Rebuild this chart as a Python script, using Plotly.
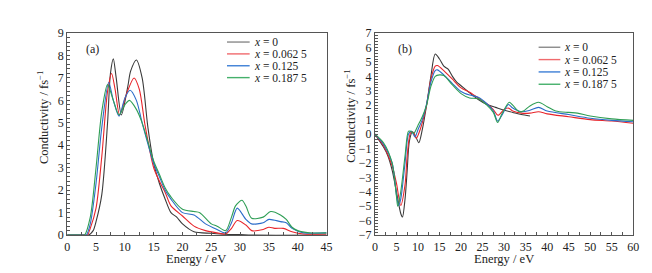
import plotly.graph_objects as go

# ---------------- data: panel (a) ----------------
a_labels = ["<i>x</i> = 0", "<i>x</i> = 0.062 5", "<i>x</i> = 0.125", "<i>x</i> = 0.187 5"]
colors = ["#3a3a3a", "#e8252b", "#2b6cc9", "#2f9e55"]
legend_colors = ["#8a8a8a", "#f06a6d", "#3d7fd6", "#45b06b"]

a0_E = [0, 3.0, 3.7, 4.5, 5, 6, 7, 7.5, 8, 8.5, 9.4, 10.5, 11, 12, 13, 14, 15, 16, 17, 18, 19, 20, 22, 25, 28, 30, 32, 45]
a0_v = [0, 0, 0, 0.2, 0.6, 1.8, 5.0, 7.2, 7.85, 7.0, 5.35, 6.6, 7.3, 7.8, 7.0, 4.8, 3.2, 2.3, 1.6, 1.0, 0.8, 0.5, 0.15, 0.08, 0.03, 0.02, 0.0, 0.0]

a1_E = [0, 3.0, 3.5, 4, 5, 6, 7, 7.7, 8.3, 9.1, 10.3, 11.6, 12.5, 13.5, 15, 16, 17, 18, 20, 22, 24, 26, 27.5, 28.5, 29.5, 31, 32, 34, 35, 36, 37.5, 39, 41, 45]
a1_v = [0, 0, 0, 0.3, 1.2, 3.5, 6.4, 7.2, 6.5, 5.35, 6.3, 7.0, 6.5, 4.9, 3.0, 2.4, 1.9, 1.3, 0.85, 0.4, 0.2, 0.1, 0.05, 0.3, 0.65, 0.45, 0.2, 0.25, 0.35, 0.3, 0.3, 0.15, 0.05, 0.05]

a2_E = [0, 2.8, 3.3, 4, 5, 6, 7.2, 8, 9.0, 10, 10.9, 12, 13, 15, 16, 17, 18, 20, 22, 24, 26, 27.5, 28.5, 29.5, 31, 32, 34, 35, 37, 38, 39, 41, 45]
a2_v = [0, 0, 0, 0.5, 2.3, 4.8, 6.8, 6.0, 5.3, 6.1, 6.45, 6.0, 5.0, 3.2, 2.6, 2.0, 1.6, 1.0, 0.9, 0.5, 0.25, 0.1, 0.55, 1.2, 0.7, 0.5, 0.55, 0.7, 0.6, 0.55, 0.3, 0.1, 0.1]

a3_E = [0, 2.5, 3.0, 4, 5, 6, 7.0, 8, 9.0, 10, 10.8, 12, 13, 15, 16, 17, 18, 20, 22, 23, 25, 26, 27.5, 28.5, 29.2, 30.3, 31, 32, 34, 35.3, 37, 38, 39, 40, 42, 45]
a3_v = [0, 0, 0, 0.8, 3.0, 5.5, 6.7, 6.0, 5.35, 5.8, 6.0, 5.6, 5.0, 3.3, 2.7, 2.1, 1.7, 1.15, 1.05, 1.0, 0.5, 0.4, 0.2, 0.8, 1.3, 1.55, 1.3, 0.75, 0.8, 1.05, 0.9, 0.7, 0.35, 0.2, 0.1, 0.1]

# ---------------- data: panel (b) ----------------
b0_E = [0, 2, 3, 4, 5, 6, 6.4, 7, 7.5, 8, 8.7, 9.5, 10.2, 11, 12, 13, 14, 15, 16, 17, 18, 19, 20, 22, 24, 26, 28, 30, 32, 34, 36]
b0_v = [0, -0.9, -1.5, -2.5, -4.0, -5.5, -5.75, -4.5, -2.5, -0.5, 0.15, -0.2, -0.6, 0.3, 2.0, 4.0, 5.55, 5.2, 4.7, 4.5, 4.0, 3.6, 3.35, 2.85, 2.4, 2.05, 1.85, 1.65, 1.5, 1.35, 1.25]

b1_E = [0, 2, 4, 5, 6, 7, 7.5, 8.3, 9, 9.6, 10.5, 12, 13, 14, 14.5, 16, 17, 18, 20, 22, 24, 26, 27.5, 28.6, 30, 31, 32, 34, 36, 38, 40, 45, 50, 55, 60]
b1_v = [0, -0.8, -2.2, -3.4, -4.95, -3.5, -1.5, 0.1, 0.1, -0.3, 0.3, 2.0, 3.8, 4.7, 4.75, 4.4, 4.1, 3.8, 3.2, 2.9, 2.5, 2.1, 1.7, 1.3, 1.7, 1.8, 1.6, 1.45, 1.45, 1.55, 1.4, 1.2, 1.0, 0.9, 0.75]

b2_E = [0, 2, 4, 5, 5.5, 6, 7, 7.8, 8.5, 9.3, 10, 11, 12, 13, 14, 14.5, 16, 18, 20, 22, 24, 26, 27.5, 28.5, 29.5, 31, 32, 34, 36, 38, 40, 45, 50, 55, 60]
b2_v = [0, -0.7, -2.0, -4.2, -4.95, -4.5, -2.0, 0.0, 0.2, -0.2, 0.3, 1.0, 2.1, 3.6, 4.4, 4.45, 4.1, 3.5, 2.95, 2.7, 2.55, 2.1, 1.6, 0.9, 1.3, 2.05, 1.8, 1.55, 1.65, 1.85, 1.6, 1.35, 1.1, 0.95, 0.85]

b3_E = [0, 2, 4, 5, 5.3, 6, 7, 7.8, 8.3, 9, 10, 11, 12, 13, 14, 15, 16, 18, 20, 22, 24, 26, 27.5, 28.5, 29.5, 31.2, 32, 33.5, 34.5, 36, 38, 40, 42, 45, 47, 50, 55, 60]
b3_v = [0, -0.6, -2.0, -4.3, -5.0, -4.0, -1.5, 0.2, 0.2, 0.05, 0.6, 1.2, 2.0, 3.3, 4.0, 4.1, 4.05, 3.4, 2.8, 2.5, 2.45, 2.0, 1.5, 0.8, 1.4, 2.2, 2.0, 1.55, 1.6, 1.95, 2.2, 1.9, 1.6, 1.5, 1.45, 1.25, 1.05, 0.95]

a_series = [(a0_E, a0_v), (a1_E, a1_v), (a2_E, a2_v), (a3_E, a3_v)]
b_series = [(b0_E, b0_v), (b1_E, b1_v), (b2_E, b2_v), (b3_E, b3_v)]

FONT = "Liberation Serif"
W, H = 652, 273
fig = go.Figure()

for (E, v), name, c in zip(a_series, a_labels, colors):
    fig.add_trace(go.Scatter(x=E, y=v, mode="lines", name=name, showlegend=False,
                             line=dict(color=c, width=1.1, shape="spline", smoothing=0.8),
                             xaxis="x", yaxis="y"))
for (E, v), name, c in zip(b_series, a_labels, colors):
    fig.add_trace(go.Scatter(x=E, y=v, mode="lines", name=name, showlegend=False,
                             line=dict(color=c, width=1.1, shape="spline", smoothing=0.8),
                             xaxis="x2", yaxis="y2"))

axcommon = dict(showline=True, mirror=True, linecolor="#555", linewidth=1, ticks="inside", ticklen=3,
                tickcolor="#555", showgrid=False, zeroline=False, tickfont=dict(family=FONT, size=12, color="#222"),
                minor=dict(ticks="inside", ticklen=3, tickcolor="#555"))

ydom = [41 / H, 1 - 19 / H]
fig.update_layout(
    width=W, height=H, margin=dict(l=0, r=0, t=0, b=0),
    paper_bgcolor="white", plot_bgcolor="white",
    font=dict(family=FONT, size=12, color="#222"),
    showlegend=False,
    xaxis=dict(domain=[57 / W, 320 / W], range=[0, 45], dtick=5, anchor="y", **axcommon),
    yaxis=dict(domain=ydom, range=[0, 9], dtick=1, anchor="x", **axcommon),
    xaxis2=dict(domain=[369 / W, 631 / W], range=[0, 60], dtick=5, anchor="y2", **axcommon),
    yaxis2=dict(domain=ydom, range=[-7, 7], dtick=1, anchor="x2", **axcommon),
)
fig.update_xaxes(minor=dict(dtick=2.5))

ann = []
shapes = []
# axis titles and panel labels
for xc, yc in [(188, 257), (500, 257)]:
    ann.append(dict(text="Energy / eV", x=xc / W, y=1 - yc / H, xref="paper", yref="paper", showarrow=False,
                    xanchor="center", yanchor="middle", font=dict(family=FONT, size=12.5, color="#222")))
for xc, yc in [(33, 108), (343, 107)]:
    ann.append(dict(text="Conductivity / fs<sup>−1</sup>", x=xc / W, y=1 - yc / H, xref="paper", yref="paper",
                    showarrow=False, textangle=-90, xanchor="center", yanchor="middle",
                    font=dict(family=FONT, size=12.5, color="#222")))
for txt, xl in [("(a)", 74), ("(b)", 390)]:
    ann.append(dict(text=txt, x=xl / W, y=1 - 36 / H, xref="paper", yref="paper", showarrow=False,
                    xanchor="left", yanchor="middle", font=dict(family=FONT, size=12, color="#222")))

# legends (drawn manually for compact row spacing)
leg_specs = [(219, 242, 245, [28.5, 41, 53.5, 66]), (535, 557, 560, [34, 47, 60, 73])]
for x0, x1, xt, rows in leg_specs:
    for lab, lc, yr in zip(a_labels, legend_colors, rows):
        shapes.append(dict(type="line", xref="paper", yref="paper", x0=x0 / W, x1=x1 / W,
                           y0=1 - yr / H, y1=1 - yr / H, line=dict(color=lc, width=1.4)))
        ann.append(dict(text=lab, x=xt / W, y=1 - yr / H, xref="paper", yref="paper", showarrow=False,
                        xanchor="left", yanchor="middle", borderpad=0,
                        font=dict(family=FONT, size=11.5, color="#222")))

fig.update_layout(annotations=ann, shapes=shapes)
fig.write_html("out.html")
